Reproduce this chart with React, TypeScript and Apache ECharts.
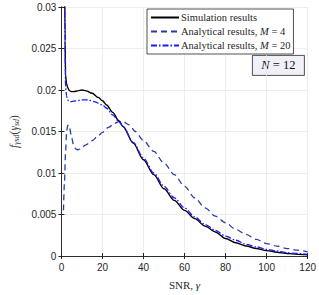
import React, { useEffect, useRef } from "react";
import * as echarts from "echarts";

const xTicks = [0, 20, 40, 60, 80, 100, 120];
const yTickLabels = ["0", "0.005", "0.01", "0.015", "0.02", "0.025", "0.03"];

const simX = [1.5, 1.8, 2, 2.5, 3, 4, 5, 6, 8, 10, 12, 15, 18, 20, 22, 25, 28, 30, 35, 40, 45, 50, 55, 60, 65, 70, 75, 80, 85, 90, 95, 100, 105, 110, 115, 120];
const simY = [0.035, 0.026, 0.0218, 0.0208, 0.0203, 0.0199, 0.0198, 0.0198, 0.0199, 0.02, 0.0199, 0.0196, 0.0191, 0.0187, 0.0182, 0.0173, 0.0163, 0.0156, 0.0136, 0.0116, 0.0098, 0.0081, 0.0067, 0.0055, 0.0045, 0.0036, 0.0029, 0.0021, 0.0016, 0.0012, 0.0009, 0.00065, 0.00045, 0.0003, 0.0002, 0.00015];

const m20X = [1.5, 1.8, 2, 2.5, 3, 4, 5, 7, 10, 13, 16, 20, 22, 25, 28, 30, 35, 40, 45, 50, 55, 60, 65, 70, 75, 80, 85, 90, 95, 100, 105, 110, 115, 120];
const m20Y = [0.035, 0.025, 0.0205, 0.0193, 0.0188, 0.0186, 0.0186, 0.0187, 0.0188, 0.0188, 0.0186, 0.0182, 0.0178, 0.017, 0.0162, 0.0156, 0.0137, 0.0118, 0.01, 0.0084, 0.007, 0.0058, 0.0047, 0.0038, 0.0031, 0.0024, 0.0019, 0.0014, 0.0011, 0.0008, 0.0006, 0.0004, 0.0003, 0.0002];

const m4X = [1, 1.5, 2, 2.5, 3, 3.5, 4, 5, 6, 7, 8, 10, 12, 15, 18, 20, 23, 26, 28, 30, 33, 36, 40, 45, 50, 55, 60, 65, 70, 75, 80, 85, 90, 95, 100, 105, 110, 115, 120];
const m4Y = [0.0055, 0.009, 0.0125, 0.0148, 0.0157, 0.0158, 0.0154, 0.0142, 0.0133, 0.0129, 0.0128, 0.0131, 0.0134, 0.0139, 0.0145, 0.0149, 0.0155, 0.016, 0.0162, 0.0162, 0.0158, 0.015, 0.0139, 0.0126, 0.0112, 0.0098, 0.0084, 0.007, 0.0058, 0.0048, 0.004, 0.0032, 0.0026, 0.002, 0.0015, 0.0012, 0.0009, 0.0007, 0.0005];

const zip = (xs: number[], ys: number[]) => xs.map((x, i) => [x, ys[i]]);

const SERIF = "'Liberation Serif', 'Times New Roman', serif";
const SANS = "'Liberation Sans', Arial, sans-serif";
const AX = "#262626";

export default function App() {
  const ref = useRef<HTMLDivElement>(null);
  useEffect(() => {
    if (!ref.current) return;
    const chart = echarts.init(ref.current, undefined, { renderer: "svg" });
    const legendNames: Record<string, string> = {
      sim: "{r|Simulation results}",
      m4: "{r|Analytical results, }{i|M}{r| = 4}",
      m20: "{r|Analytical results, }{i|M}{r| = 20}",
    };
    chart.setOption({
      animation: false,
      backgroundColor: "#ffffff",
      grid: { left: 54, right: 11, top: 7, bottom: 38 },
      xAxis: [
        {
          type: "value",
          min: 0,
          max: 120,
          interval: 20,
          axisLine: { show: true, lineStyle: { color: AX, width: 0.8 } },
          axisTick: { show: true, inside: true, length: 3, lineStyle: { color: AX } },
          axisLabel: {
            color: AX,
            fontSize: 10,
            fontFamily: SANS,
            margin: 6,
            formatter: (v: number) => (xTicks.includes(v) ? String(v) : ""),
          },
          splitLine: { show: true, lineStyle: { color: "#e8e8e8", width: 0.8 } },
          name: "SNR, {i|γ}",
          nameLocation: "middle",
          nameGap: 23,
          nameTextStyle: {
            color: AX,
            fontSize: 11,
            fontFamily: SERIF,
            rich: { i: { fontStyle: "italic", fontSize: 11, fontFamily: SERIF, color: AX } },
          },
        },
        {
          type: "value",
          position: "top",
          min: 0,
          max: 120,
          interval: 20,
          axisLine: { show: true, lineStyle: { color: AX, width: 0.8 } },
          axisTick: { show: true, inside: true, length: 3, lineStyle: { color: AX } },
          axisLabel: { show: false },
          splitLine: { show: false },
        },
      ],
      yAxis: [
        {
          type: "value",
          min: 0,
          max: 0.03,
          interval: 0.005,
          axisLine: { show: true, lineStyle: { color: AX, width: 0.8 } },
          axisTick: { show: true, inside: true, length: 3, lineStyle: { color: AX } },
          axisLabel: {
            color: AX,
            fontSize: 10,
            fontFamily: SANS,
            margin: 5,
            formatter: (v: number) => {
              const idx = Math.round(v / 0.005);
              return yTickLabels[idx] ?? "";
            },
          },
          splitLine: { show: true, lineStyle: { color: "#e8e8e8", width: 0.8 } },
          name: "{f|f}{s|γsd}{p|(}{g|γ}{s|sd}{p|)}",
          nameLocation: "middle",
          nameGap: 40,
          nameTextStyle: {
            color: "#404040",
            rich: {
              f: { fontStyle: "italic", fontSize: 11.5, fontFamily: SERIF, color: "#404040" },
              s: { fontStyle: "italic", fontSize: 8, fontFamily: SERIF, color: "#404040", padding: [5, 0, 0, 0] },
              p: { fontSize: 11.5, fontFamily: SERIF, color: "#404040" },
              g: { fontStyle: "italic", fontSize: 11.5, fontFamily: SERIF, color: "#404040" },
            },
          },
        },
        {
          type: "value",
          position: "right",
          min: 0,
          max: 0.03,
          interval: 0.005,
          axisLine: { show: true, lineStyle: { color: AX, width: 0.8 } },
          axisTick: { show: true, inside: true, length: 3, lineStyle: { color: AX } },
          axisLabel: { show: false },
          splitLine: { show: false },
        },
      ],
      legend: {
        orient: "vertical",
        left: 147,
        top: 9,
        width: 159,
        padding: [3, 3, 3, 3],
        itemGap: 3,
        itemWidth: 28,
        itemHeight: 10,
        backgroundColor: "#ffffff",
        borderColor: AX,
        borderWidth: 0.8,
        borderRadius: 0,
        itemStyle: { opacity: 0 },
        data: ["sim", "m4", "m20"],
        formatter: (name: string) => legendNames[name] ?? name,
        textStyle: {
          color: AX,
          padding: [0, 0, 0, -3],
          rich: {
            r: { fontSize: 10.5, fontFamily: SERIF, color: AX },
            i: { fontSize: 10.5, fontFamily: SERIF, fontStyle: "italic", color: AX },
          },
        },
      },
      graphic: [
        {
          type: "group",
          left: 252,
          top: 55,
          children: [
            {
              type: "rect",
              shape: { x: 0, y: 0, width: 52, height: 20 },
              style: { fill: "#f0f1f8", stroke: AX, lineWidth: 0.8 },
            },
            {
              type: "text",
              x: 26,
              y: 10,
              style: {
                text: "{i|N}{r| = 12}",
                align: "center",
                verticalAlign: "middle",
                rich: {
                  i: { fontSize: 12.5, fontFamily: SERIF, fontStyle: "italic", fill: "#111" },
                  r: { fontSize: 12.5, fontFamily: SERIF, fill: "#111" },
                },
              },
            },
          ],
        },
      ],
      series: [
        {
          name: "sim",
          type: "line",
          data: zip(simX, simY),
          symbol: "none",
          smooth: 0.3,
          smoothMonotone: "x",
          lineStyle: { color: "#000000", width: 1.4, type: "solid" },
          itemStyle: { color: "#000000" },
          z: 3,
        },
        {
          name: "m4",
          type: "line",
          data: zip(m4X, m4Y),
          symbol: "none",
          smooth: 0.3,
          smoothMonotone: "x",
          lineStyle: { color: "#2a3ca8", width: 1.3, type: [6, 4] },
          itemStyle: { color: "#2a3ca8" },
          z: 2,
        },
        {
          name: "m20",
          type: "line",
          data: zip(m20X, m20Y),
          symbol: "none",
          smooth: 0.3,
          smoothMonotone: "x",
          lineStyle: { color: "#1a1aff", width: 1.3, type: [6, 2, 1.5, 2] },
          itemStyle: { color: "#1a1aff" },
          z: 4,
        },
      ],
    });
    return () => chart.dispose();
  }, []);
  return <div ref={ref} style={{ width: 319, height: 295, position: "absolute", left: 0, top: 0 }} />;
}
